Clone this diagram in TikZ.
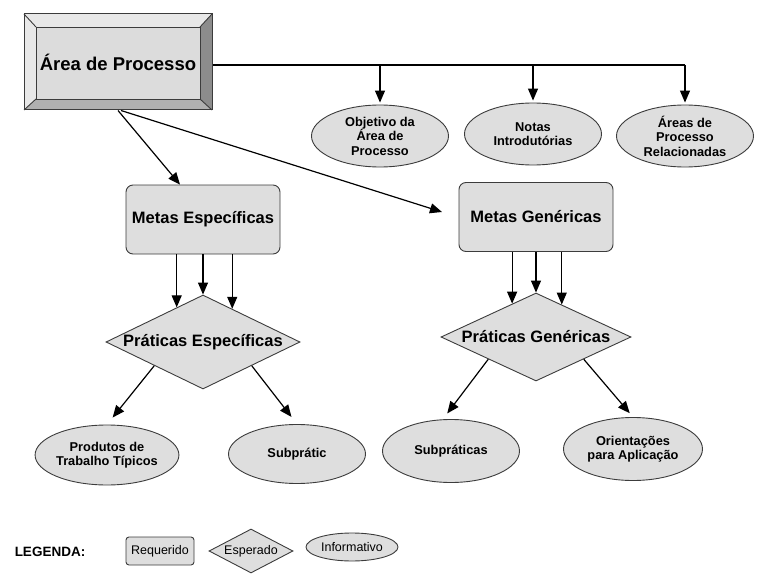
\documentclass[tikz,border=0pt]{standalone}
\usepackage{fontspec}
\setmainfont{Liberation Sans}
\usetikzlibrary{shapes.geometric,arrows.meta,calc}
\definecolor{shfill}{RGB}{222,222,222}
\definecolor{bevlight}{RGB}{232,232,232}
\definecolor{bevinner}{RGB}{220,220,220}
\definecolor{bevdark}{RGB}{140,140,140}
\definecolor{bevmid}{RGB}{176,176,176}
\definecolor{edgec}{RGB}{60,60,60}
\begin{document}
\begin{tikzpicture}[x=1pt,y=-1pt,
  arr/.style={-{Triangle[length=12pt,width=10pt]}, line width=1.2pt, black},
  conn/.style={line width=1.2pt, black},
  bevedge/.style={draw=edgec, line width=0.9pt},
  mainbox/.style={rectangle, draw=edgec, line width=1pt, minimum width=188pt, minimum height=96pt, inner sep=0pt, font=\fontsize{18.5}{22}\selectfont\bfseries},
  reqbox/.style={rectangle, rounded corners=7pt, draw=edgec, line width=0.9pt, fill=shfill, minimum width=154pt, minimum height=69pt, inner sep=0pt, font=\fontsize{16.5}{20}\selectfont\bfseries},
  espdia/.style={diamond, draw=edgec, line width=0.9pt, fill=shfill, inner sep=0pt, minimum width=194pt, minimum height=94pt, font=\fontsize{16.5}{20}\selectfont\bfseries},
  infoell/.style={ellipse, draw=edgec, line width=0.9pt, fill=shfill, inner sep=0pt, minimum width=137pt, minimum height=62pt, align=center, font=\fontsize{12.8}{14.5}\selectfont\bfseries},
  legreq/.style={rectangle, rounded corners=3pt, draw=edgec, line width=0.9pt, fill=shfill, minimum width=68pt, minimum height=28pt, inner sep=0pt, font=\fontsize{12.5}{14}\selectfont},
  legesp/.style={diamond, draw=edgec, line width=0.9pt, fill=shfill, inner sep=0pt, minimum width=84pt, minimum height=44pt, font=\fontsize{12.5}{14}\selectfont},
  leginf/.style={ellipse, draw=edgec, line width=0.9pt, fill=shfill, inner sep=0pt, minimum width=92pt, minimum height=28pt, font=\fontsize{12.5}{14}\selectfont},
]
\useasboundingbox (0,0) rectangle (772,578);

% bevelled main box
\fill[bevlight] (24,14) -- (212,14) -- (200,27) -- (36,27) -- cycle;
\fill[bevlight] (24,14) -- (36,27) -- (36,99) -- (24,110) -- cycle;
\fill[bevdark] (212,14) -- (212,110) -- (200,99) -- (200,27) -- cycle;
\fill[bevmid] (24,110) -- (212,110) -- (200,99) -- (36,99) -- cycle;
\draw[bevedge, fill=bevinner] (36,27) rectangle (200,99);
\draw[bevedge] (24,14) -- (36,27) (212,14) -- (200,27) (24,110) -- (36,99) (212,110) -- (200,99);
\node[mainbox] (main) at (118,62) {Área de Processo};

% informative ellipses at top
\node[infoell] (obj) at (380,136) {Objetivo da\\Área de\\Processo};
\node[infoell] (not) at (533,134) {Notas\\Introdutórias};
\node[infoell] (are) at (685,136) {Áreas de\\Processo\\Relacionadas};

% goals
\node[reqbox] (me) at (203,219.5) {Metas Específicas};
\node[reqbox] (mg) at (536,217) {Metas Genéricas};

% practices
\node[espdia] (pe) at (203,342) {\makebox[0pt]{Práticas Específicas}};
\node[espdia, minimum width=190pt, minimum height=88pt] (pg) at (536,337) {\makebox[0pt]{Práticas Genéricas}};

% bottom ellipses
\node[infoell, minimum height=60pt] (pro) at (107,455) {Produtos de\\Trabalho Típicos};
\node[infoell, minimum height=59pt] (sp1) at (297,454) {Subprátic};
\node[infoell, minimum height=63pt] (sp2) at (451,451) {Subpráticas};
\node[infoell, minimum width=139pt, minimum height=63pt] (ori) at (633,449) {Orientações\\para Aplicação};

% legend
\node[font=\fontsize{13.5}{16}\selectfont\bfseries] (leg) at (50,552) {LEGENDA:};
\node[legreq] (lreq) at (160,551) {Requerido};
\node[legesp] (lesp) at (251,551) {\makebox[0pt]{Esperado}};
\node[leginf] (linf) at (352,547) {Informativo};

% connectors from main box
\coordinate (h) at ($(main.east)+(0,3)$);
\draw[conn] (h) -- (h -| are.north);
\draw[arr, shorten >=2pt] (h -| obj.north) -- (obj.north);
\draw[arr, shorten >=2pt] (h -| not.north) -- (not.north);
\draw[arr, shorten >=2pt] (h -| are.north) -- (are.north);
\draw[arr] (main.south) -- ([xshift=-23pt]me.north);
\coordinate (mgin) at (442,212);
\draw[arr] ([xshift=3pt]main.south) -- (mgin);

% goals to practices
\coordinate (pe1) at ($(pe.north)!.27!(pe.west)$);
\coordinate (pe3) at ($(pe.north)!.30!(pe.east)$);
\draw[arr] (me.south -| pe1) -- (pe1);
\draw[arr] (me.south) -- (pe.north);
\draw[arr] (me.south -| pe3) -- (pe3);
\coordinate (pg1) at ($(pg.north)!.25!(pg.west)$);
\coordinate (pg3) at ($(pg.north)!.27!(pg.east)$);
\draw[arr] (mg.south -| pg1) -- (pg1);
\draw[arr] (mg.south) -- (pg.north);
\draw[arr] (mg.south -| pg3) -- (pg3);

% practices to subitems
\draw[arr, shorten >=9pt] ($(pe.west)!.5!(pe.south)$) -- (pro.north);
\draw[arr, shorten >=9pt] ($(pe.east)!.5!(pe.south)$) -- (sp1.north);
\draw[arr, shorten >=7pt] ($(pg.west)!.5!(pg.south)$) -- ([xshift=-8pt]sp2.north);
\draw[arr, shorten >=5pt] ($(pg.east)!.5!(pg.south)$) -- (ori.north);
\end{tikzpicture}
\end{document}
